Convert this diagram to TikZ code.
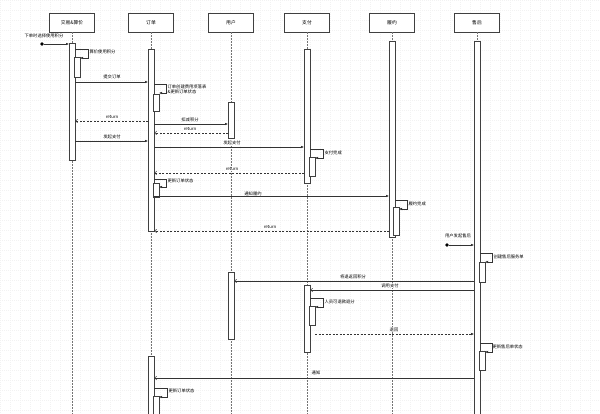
\documentclass[tikz,border=0pt]{standalone}
\usepackage{fontspec}
\setmainfont{Noto Sans CJK SC}
\usetikzlibrary{arrows.meta}
\newcommand{\lfont}{\fontsize{4.3}{5.2}\selectfont}
\newcommand{\hfont}{\fontsize{4.8}{5.8}\selectfont}
\newcommand{\actv}[4]{\node[act, minimum height={#4-#3}] (#1) at (#2,{(#3+#4)/2}) {};}
\tikzset{
  gridline/.style={draw=black!5, line width=0.25pt, dash pattern=on 1pt off 1pt},
  headbox/.style={draw=black!75, fill=white, minimum width=45pt, minimum height=19pt, inner sep=0pt, font=\hfont},
  act/.style={draw=black!75, fill=white, minimum width=6pt, inner sep=0pt, outer sep=0pt, line width=0.5pt},
  life/.style={draw=black!55, dash pattern=on 1.5pt off 1.5pt, line width=0.4pt},
  msg/.style={draw=black!80, line width=0.5pt, -{Latex[length=3pt,width=2.6pt]}},
  amsg/.style={draw=black!80, line width=0.5pt, -{Straight Barb[length=2.2pt,width=3.2pt]}},
  ret/.style={amsg, dash pattern=on 2pt off 1.5pt},
  dret/.style={msg, dash pattern=on 2pt off 1.5pt},
  lbl/.style={font=\lfont, inner sep=0.4pt, fill=white},
  slbl/.style={font=\lfont, inner sep=0.4pt, anchor=west, align=left},
  dot/.style={circle, fill=black, inner sep=0pt, minimum size=3.6pt},
}
\begin{document}
\begin{tikzpicture}[x=1pt, y=-1pt]
\useasboundingbox (0,0) rectangle (600,413);
\fill[white] (0,0) rectangle (600,413);
\foreach \i in {0,10,...,600} \draw[gridline] (\i,0) -- (\i,413);
\foreach \j in {0,10,...,410} \draw[gridline] (0,\j) -- (600,\j);

\coordinate (bot) at (0,418);
% headers
\node[headbox] (H1) at (72,22.5) {交易\&算价};
\node[headbox] (H2) at (151,22.5) {订单};
\node[headbox] (H3) at (231,22.5) {用户};
\node[headbox] (H4) at (307,22.5) {支付};
\node[headbox] (H5) at (392,22.5) {履约};
\node[headbox] (H6) at (477,22.5) {售后};
\foreach \h in {H1,H2,H3,H4,H5,H6} \draw[life] (\h.south) -- (\h.south |- bot);

% activations
\actv{A1}{72}{43}{160}
\actv{A1n}{77}{57}{77}
\actv{A2}{151}{49}{231}
\actv{A2n}{156}{94}{111}
\actv{A2m}{156}{183}{197}
\actv{A3}{231}{102}{138}
\actv{A4}{307}{49}{183}
\actv{A4n}{312}{157}{176}
\actv{A5}{392}{41}{237}
\actv{A5n}{396}{207}{235}
\actv{A6}{477}{41}{420}
\actv{A6n}{482}{262}{282}
\actv{A6m}{482}{351}{370}
\actv{A3b}{231}{272}{339}
\actv{A4b}{307}{285}{352}
\actv{A4bn}{312}{306}{325}
\actv{A2b}{151}{356}{420}
\actv{A2bn}{156}{396}{420}

% message rows
\foreach \y in {44,49,58,82,84,93,121,124,133,141,147,149,158,173,179,187,196,200,209,231,245,253,262,281,290,298,307,334,343,352,378,388,397}
  \coordinate (y\y) at (0,\y);

% 1 found message
\node[dot] (F1) at (42,44) {};
\draw[msg] (F1) -- (A1.west |- y44);
\node[lbl] (L1) at (44,36) {下单时选择使用积分};
% 2 self
\draw[msg] (A1.east |- y49) -- ++(13,0) |- (A1n.east |- y58);
\node[slbl] (L2) at (89,52) {算价使用积分};
% 3
\draw[msg] (A1.east |- y82) -- (A2.west |- y82);
\node[lbl] (L3) at (112,77) {提交订单};
% 4 self
\draw[msg] (A2.east |- y84) -- ++(12,0) |- (A2n.east |- y93);
\node[slbl] (L4) at (167,89) {订单创建费用项落表\\\&更新订单状态};
% 5 return
\draw[ret] (A2.west |- y121) -- (A1.east |- y121);
\node[lbl] (L5) at (112,117) {return};
% 6
\draw[msg] (A2.east |- y124) -- (A3.west |- y124);
\node[lbl] (L6) at (190,119.5) {扣减积分};
% 7
\draw[ret] (A3.west |- y133) -- (A2.east |- y133);
\node[lbl] (L7) at (190,129) {return};
% 8
\draw[msg] (A1.east |- y141) -- (A2.west |- y141);
\node[lbl] (L8) at (112,136.5) {发起支付};
% 9
\draw[msg] (A2.east |- y147) -- (A4.west |- y147);
\node[lbl] (L9) at (232,142.5) {发起支付};
% 10 self
\draw[msg] (A4.east |- y149) -- ++(13,0) |- (A4n.east |- y158);
\node[slbl] (L10) at (324,153) {支付完成};
% 11 return
\draw[ret] (A4.west |- y173) -- (A2.east |- y173);
\node[lbl] (L11) at (232,169.5) {return};
% 12 self
\draw[msg] (A2.east |- y179) -- ++(12,0) |- (A2m.east |- y187);
\node[slbl] (L12) at (167,181) {更新订单状态};
% 13
\draw[msg] (A2.east |- y196) -- (A5.west |- y196);
\node[lbl] (L13) at (253,194) {通知履约};
% 14 self
\draw[msg] (A5.east |- y200) -- ++(12,0) |- (A5n.east |- y209);
\node[slbl] (L14) at (408,204) {履约完成};
% 15 return
\draw[ret] (A5.west |- y231) -- (A2.east |- y231);
\node[lbl] (L15) at (270,227) {return};
% 16 found
\node[dot] (F2) at (447,245) {};
\draw[msg] (F2) -- (A6.west |- y245);
\node[lbl] (L16) at (458,235.5) {用户发起售后};
% 17 self
\draw[msg] (A6.east |- y253) -- ++(12,0) |- (A6n.east |- y262);
\node[slbl] (L17) at (493,257) {创建售后服务单};
% 18
\draw[amsg] (A6.west |- y281) -- (A3b.east |- y281);
\node[lbl] (L18) at (353,276.5) {将退返回积分};
% 19
\draw[amsg] (A6.west |- y290) -- (A4b.east |- y290);
\node[lbl] (L19) at (390,285.5) {调用支付};
% 20 self
\draw[msg] (A4b.east |- y298) -- ++(13,0) |- (A4bn.east |- y307);
\node[slbl] (L20) at (324,301.5) {人员可退款退分};
% 21
\draw[dret] (A4bn.east |- y334) -- (A6.west |- y334);
\node[lbl] (L21) at (394,329.5) {退回};
% 22 self
\draw[msg] (A6.east |- y343) -- ++(12,0) |- (A6m.east |- y352);
\node[slbl] (L22) at (492,347) {更新售后单状态};
% 23
\draw[amsg] (A6.west |- y378) -- (A2b.east |- y378);
\node[lbl] (L23) at (316,373) {通知};
% 24 self
\draw[msg] (A2b.east |- y388) -- ++(13,0) |- (A2bn.east |- y397);
\node[slbl] (L24) at (168,391) {更新订单状态};
\end{tikzpicture}
\end{document}
